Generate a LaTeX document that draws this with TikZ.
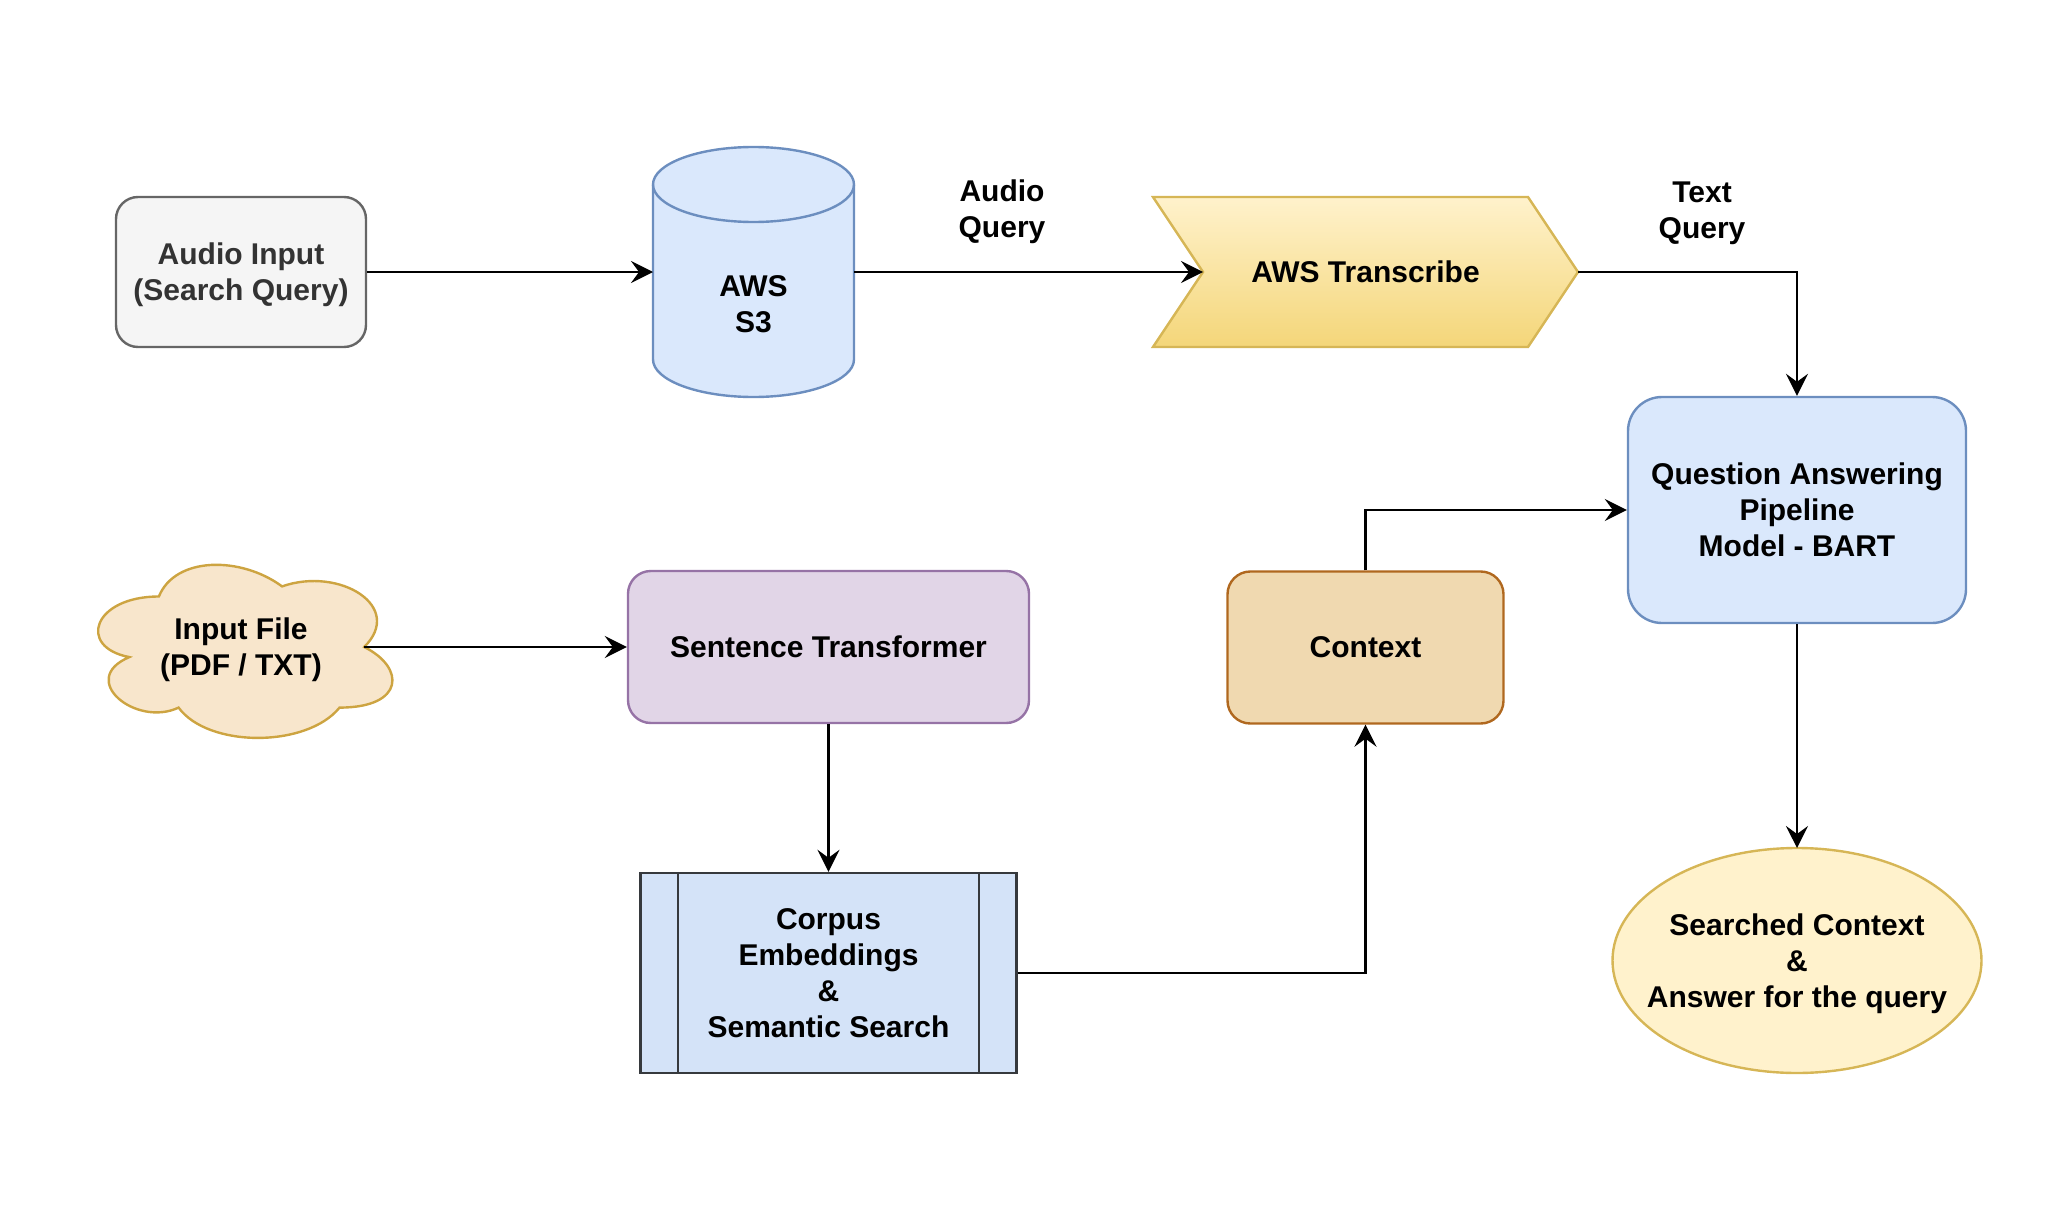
\documentclass[tikz,border=0pt]{standalone}
\usepackage{fontspec}
\setmainfont{Liberation Sans}
\usetikzlibrary{arrows.meta,shapes.geometric,calc}

\definecolor{greyfill}{HTML}{F5F5F5}
\definecolor{greyline}{HTML}{666666}
\definecolor{greytext}{HTML}{333333}
\definecolor{bluefill}{HTML}{DAE8FC}
\definecolor{blueline}{HTML}{6C8EBF}
\definecolor{procfill}{HTML}{D4E3F8}
\definecolor{procline}{HTML}{36393D}
\definecolor{yellowtop}{HTML}{FFF2CC}
\definecolor{yellowbot}{HTML}{F4D679}
\definecolor{yellowline}{HTML}{D6B656}
\definecolor{purplefill}{HTML}{E1D5E7}
\definecolor{purpleline}{HTML}{9673A6}
\definecolor{cloudfill}{HTML}{F8E6CC}
\definecolor{cloudline}{HTML}{CDA441}
\definecolor{ctxfill}{HTML}{F0D9B0}
\definecolor{ctxline}{HTML}{B0681F}

\tikzset{
  txt/.style={font=\fontsize{15}{18}\selectfont\bfseries, align=center, inner sep=0pt, text depth=0pt},
  holder/.style={inner sep=0pt, outer sep=0pt},
  rbox/.style={txt, draw, line width=1.2pt, rounded corners=11.4pt, minimum height=76pt},
  outline/.style={line width=1.2pt},
  arr/.style={line width=1.2pt, -{Stealth[length=11pt,width=11pt,inset=4pt]}},
}

\begin{document}
\begin{tikzpicture}[x=0.5pt,y=-0.5pt]
  \useasboundingbox (0,0) rectangle (2067,1220);

  % top row
  \node[rbox, fill=greyfill, draw=greyline, text=greytext, minimum width=125pt, minimum height=75pt, rounded corners=11pt] (audio) at (241,272) {Audio Input\\(Search Query)};

  \node[holder, minimum width=100.5pt, minimum height=125pt] (s3) at (753.5,272) {};
  \draw[outline, fill=bluefill, draw=blueline]
    ($(s3.north west)+(0,37.5)$) arc[start angle=180, end angle=360, x radius=100.5, y radius=37.5]
    -- ($(s3.south east)+(0,-37.5)$) arc[start angle=0, end angle=180, x radius=100.5, y radius=37.5]
    -- cycle;
  \draw[outline, draw=blueline]
    ($(s3.north west)+(0,37.5)$) arc[start angle=180, end angle=0, x radius=100.5, y radius=37.5];
  \node[txt] (s3text) at ($(s3.center)+(0,32)$) {AWS\\S3};

  \node[holder, minimum width=212.5pt, minimum height=75pt] (trans) at (1365.5,272) {};
  \draw[outline, draw=yellowline, top color=yellowtop, bottom color=yellowbot]
    (trans.north west) -- ($(trans.north east)+(-50,0)$) -- (trans.east)
    -- ($(trans.south east)+(-50,0)$) -- (trans.south west) -- ($(trans.west)+(50,0)$) -- cycle;
  \node[txt] (transtext) at (trans) {AWS Transcribe};

  \node[txt] (audioq) at (1002,209) {Audio\\Query};
  \node[txt] (textq) at (1702,210) {Text\\Query};

  \node[rbox, fill=bluefill, draw=blueline, minimum width=169pt, minimum height=113pt, rounded corners=17pt] (qa) at (1797,510) {Question Answering\\Pipeline\\Model - BART};

  % middle row
  \node[holder, minimum width=164.25pt, minimum height=101pt] (infile) at (241,647) {};
  \begin{scope}[shift={(infile.north west)}, x=164.25pt, y=-101pt]
    \draw[outline, fill=cloudfill, draw=cloudline]
      (0.25,0.25) .. controls (0.05,0.25) and (0,0.5) .. (0.16,0.55)
      .. controls (0,0.66) and (0.18,0.9) .. (0.31,0.8)
      .. controls (0.4,1) and (0.7,1) .. (0.8,0.8)
      .. controls (1,0.8) and (1,0.6) .. (0.875,0.5)
      .. controls (1,0.3) and (0.8,0.1) .. (0.625,0.2)
      .. controls (0.5,0.05) and (0.3,0.05) .. (0.25,0.25) -- cycle;
    \coordinate (infile out) at (0.875,0.5);
  \end{scope}
  \node[txt] (infiletext) at (infile) {Input File\\(PDF / TXT)};

  \node[rbox, fill=purplefill, draw=purpleline, minimum width=200.5pt] (sent) at (828.5,647) {Sentence Transformer};
  \node[rbox, fill=ctxfill, draw=ctxline, minimum width=138pt] (ctx) at (1365.5,647.5) {Context};

  % bottom row
  \node[txt, draw=procline, fill=procfill, line width=1.2pt, minimum width=188pt, minimum height=100pt] (corpus) at (828.5,973) {Corpus\\Embeddings\\\&\\Semantic Search};
  \draw[outline, draw=procline]
    ($(corpus.north west)+(38.5,0)$) -- ($(corpus.south west)+(38.5,0)$)
    ($(corpus.north east)+(-38.5,0)$) -- ($(corpus.south east)+(-38.5,0)$);

  \node[holder, ellipse, draw=yellowline, fill=yellowtop, line width=1.2pt, minimum width=184.5pt, minimum height=112.5pt] (answer) at (1797,960.5) {};
  \node[txt] (answertext) at (answer) {Searched Context\\\&\\Answer for the query};

  % connectors
  \draw[arr] (audio.east) -- (s3.west);
  \draw[arr] (s3.east) -- ($(trans.west)+(50,0)$);
  \draw[arr] (trans.east) -| (qa.north);
  \draw[arr] (infile out) -- (sent.west);
  \draw[arr] (sent.south) -- (corpus.north);
  \draw[arr] (corpus.east) -| (ctx.south);
  \draw[arr] (ctx.north) |- (qa.west);
  \draw[arr] (qa.south) -- (answer.north);
\end{tikzpicture}
\end{document}
